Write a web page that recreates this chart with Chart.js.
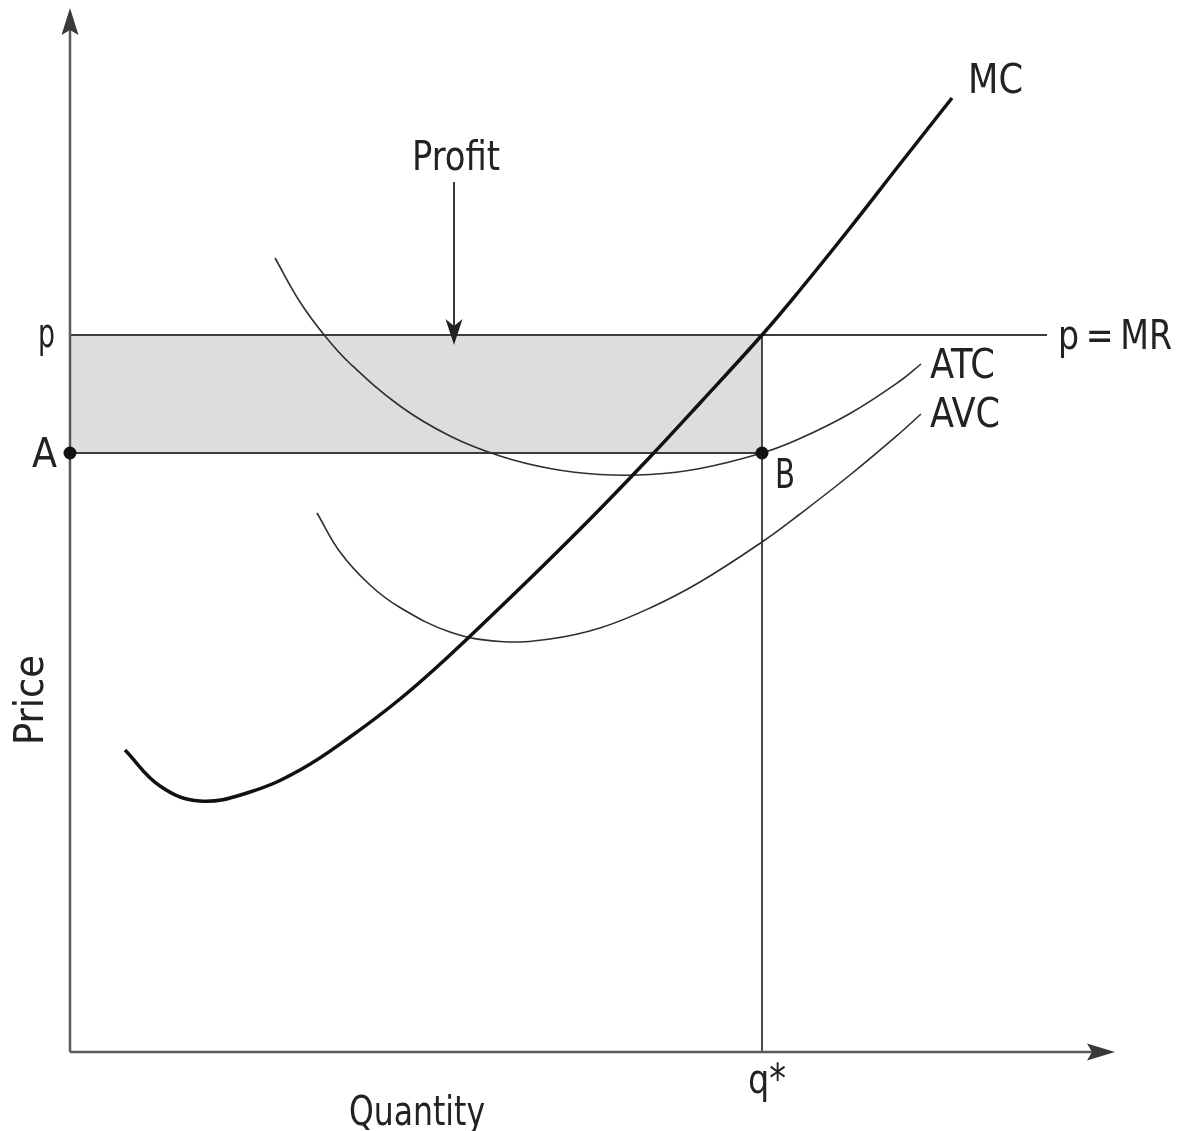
<!DOCTYPE html>
<html>
<head>
<meta charset="utf-8">
<script src="https://cdn.jsdelivr.net/npm/chart.js@4.4.1/dist/chart.umd.min.js"></script>
<style>
  html, body { margin: 0; padding: 0; background: #ffffff; }
  #wrap { width: 1180px; height: 1131px; position: relative; }
</style>
</head>
<body>
<div id="wrap"><canvas id="c"></canvas></div>
<script>
// ---- Data (abstract units: quantity on x, price on y) ----
const priceP = 71.7;        // p = MR
const atcAtQ = 59.9;        // level A (ATC at q*)
const qStar = 69.2;         // q*
const mrEnd = 97.7;         // where the p = MR line ends
const axisXEnd = 104.5;     // quantity axis arrow tip
const axisYEnd = 104.4;     // price axis arrow tip
const profitArrowX = 38.4;
const profitArrowTop = 87.0;
const profitArrowTip = 70.7;

const mcQ = [5.5, 9.0, 13.0, 18.0, 23.0, 28.0, 33.0, 38.0, 43.0, 48.0, 53.0, 58.0, 63.0, 69.2, 73.0, 78.0, 83.0, 88.2];
const mcP = [30.2, 26.6, 25.1, 26.0, 28.2, 31.5, 35.3, 39.7, 44.45, 49.3, 54.3, 59.5, 64.9, 71.7, 76.2, 82.4, 88.8, 95.4];

const atcQ = [20.5, 23.0, 25.5, 28.0, 33.0, 38.0, 43.0, 48.0, 53.0, 58.0, 63.0, 69.2, 73.0, 78.0, 83.0, 85.1];
const atcP = [79.4, 75.0, 71.6, 68.85, 64.6, 61.6, 59.6, 58.35, 57.75, 57.75, 58.35, 59.9, 61.35, 63.85, 67.1, 68.8];

const avcQ = [24.7, 27.0, 30.0, 33.0, 38.0, 43.0, 48.0, 53.0, 58.0, 63.0, 69.2, 73.0, 78.0, 83.0, 85.1];
const avcP = [53.9, 50.0, 46.7, 44.45, 42.0, 41.05, 41.3, 42.4, 44.4, 47.0, 51.0, 53.8, 57.7, 61.9, 63.8];

const pts = (xs, ys) => xs.map((x, i) => ({ x: x, y: ys[i] }));

const FONT = '"Liberation Sans Narrow", "Arial Narrow", "DejaVu Sans Condensed", "Liberation Sans", sans-serif';
const TEXT = '#222222';

// labels: text, left x, baseline y, target width (pixels), rotation
const labels = [
  { t: 'MC', x: 968, y: 93, w: 55 },
  { t: 'Profit', x: 412, y: 170, w: 88 },
  { t: 'p', x: 38, y: 347, w: 17 },
  { t: 'A', x: 32, y: 467, w: 25 },
  { t: 'B', x: 775, y: 488, w: 20 },
  { t: 'ATC', x: 930, y: 378, w: 65 },
  { t: 'AVC', x: 930, y: 427, w: 70 },
  { t: 'p\u2009=\u2009MR', x: 1058, y: 349, w: 114 },
  { t: 'q*', x: 748, y: 1093, w: 38 },
  { t: 'Quantity', x: 349, y: 1125, w: 136 },
  { t: 'Price', x: 43, y: 745, w: 90, rot: true }
];

function arrowHead(ctx, tipX, tipY, dx, dy, len, half, notch) {
  const px = -dy, py = dx;
  const bx = tipX - dx * len, by = tipY - dy * len;
  const nx = tipX - dx * (len - notch), ny = tipY - dy * (len - notch);
  ctx.beginPath();
  ctx.moveTo(tipX, tipY);
  ctx.lineTo(bx + px * half, by + py * half);
  ctx.lineTo(nx, ny);
  ctx.lineTo(bx - px * half, by - py * half);
  ctx.closePath();
  ctx.fill();
}

const decor = {
  id: 'decor',
  afterDatasetsDraw(chart) {
    const ctx = chart.ctx;
    const xs = chart.scales.x, ys = chart.scales.y;
    ctx.save();
    ctx.fillStyle = '#3a3a3a';
    arrowHead(ctx, xs.getPixelForValue(0), ys.getPixelForValue(axisYEnd), 0, -1, 27, 8.5, 5);
    arrowHead(ctx, xs.getPixelForValue(axisXEnd), ys.getPixelForValue(0), 1, 0, 28, 8.5, 5);
    ctx.fillStyle = '#222';
    arrowHead(ctx, xs.getPixelForValue(profitArrowX), ys.getPixelForValue(profitArrowTip), 0, 1, 26, 8.5, 7);
    ctx.fillStyle = TEXT;
    ctx.textBaseline = 'alphabetic';
    ctx.textAlign = 'left';
    ctx.font = '40px ' + FONT;
    labels.forEach(l => {
      const m = ctx.measureText(l.t).width;
      const s = l.w / m;
      ctx.save();
      ctx.translate(l.x, l.y);
      if (l.rot) ctx.rotate(-Math.PI / 2);
      ctx.scale(s, 1);
      ctx.fillText(l.t, 0, 0);
      ctx.restore();
    });
    ctx.restore();
  }
};

const lineDs = (data, color, width, extra) => Object.assign({
  data: data, showLine: true, borderColor: color, borderWidth: width,
  pointRadius: 0, fill: false, clip: false, tension: 0, order: 2
}, extra || {});

new Chart(document.getElementById('c'), {
  type: 'scatter',
  data: {
    datasets: [
      lineDs(pts([0, qStar], [priceP, priceP]), 'rgba(0,0,0,0)', 0, { fill: '+1', backgroundColor: '#dcdedd', order: 10 }),
      lineDs(pts([0, qStar], [atcAtQ, atcAtQ]), 'rgba(0,0,0,0)', 0, { order: 11 }),
      lineDs(pts([0, 0], [0, axisYEnd - 2]), '#5a5a5a', 2.5),
      lineDs(pts([0, axisXEnd - 2], [0, 0]), '#5a5a5a', 2.5),
      lineDs(pts([0, mrEnd], [priceP, priceP]), '#3c3c3c', 2),
      lineDs(pts([0, qStar], [atcAtQ, atcAtQ]), '#3c3c3c', 2),
      lineDs(pts([qStar, qStar], [0, priceP]), '#4a4a4a', 2),
      lineDs(pts([profitArrowX, profitArrowX], [profitArrowTop, profitArrowTip + 1.5]), '#3a3a3a', 2),
      lineDs(pts(atcQ, atcP), '#2e2e2e', 1.6, { tension: 0.4, order: 1 }),
      lineDs(pts(avcQ, avcP), '#2e2e2e', 1.6, { tension: 0.4, order: 1 }),
      lineDs(pts(mcQ, mcP), '#111111', 3.5, { tension: 0.4, order: 0 }),
      { data: pts([0, qStar], [atcAtQ, atcAtQ]), showLine: false, pointRadius: 6.5,
        pointBackgroundColor: '#111', pointBorderColor: '#111', pointBorderWidth: 0, clip: false, order: -1 }
    ]
  },
  options: {
    responsive: true,
    maintainAspectRatio: false,
    animation: false,
    events: [],
    layout: { padding: { left: 70, right: 70, top: 15, bottom: 79 } },
    plugins: { legend: { display: false }, tooltip: { enabled: false } },
    scales: {
      x: { type: 'linear', min: 0, max: 104, display: false },
      y: { type: 'linear', min: 0, max: 103.7, display: false }
    }
  },
  plugins: [decor]
});
</script>
</body>
</html>
